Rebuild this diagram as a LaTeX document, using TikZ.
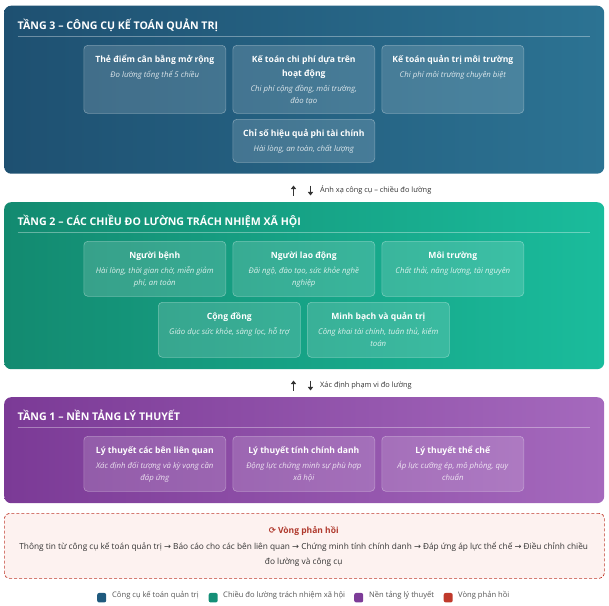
\documentclass[tikz,border=0pt]{standalone}
\usepackage{fontspec}
\setmainfont{Open Sans}
\newfontfamily\djv{DejaVu Sans}
\usetikzlibrary{calc,arrows.meta}
\definecolor{pA1}{HTML}{1E5071}
\definecolor{pA2}{HTML}{2C7393}
\definecolor{pB1}{HTML}{138A70}
\definecolor{pB2}{HTML}{1ABC9C}
\definecolor{pC1}{HTML}{7B3A96}
\definecolor{pC2}{HTML}{A569BD}
\definecolor{lgA}{HTML}{1F5A7E}
\definecolor{lgB}{HTML}{148F77}
\definecolor{lgC}{HTML}{7D3C98}
\definecolor{lgD}{HTML}{C0392B}
\definecolor{fbfill}{HTML}{FDF2F0}
\definecolor{fbline}{HTML}{C0392B}
\definecolor{fbtitle}{HTML}{B03A2E}
\definecolor{bodytxt}{HTML}{333333}
\definecolor{legtxt}{HTML}{555555}
\newcommand\rarr{{\djv →}}
\tikzset{
  panel/.style={anchor=north west, rounded corners=7pt, minimum width=600pt, inner sep=0pt, draw=none},
  card/.style={anchor=north west, rounded corners=4pt, minimum width=142pt, inner sep=0pt,
    fill=white, fill opacity=0.15, draw=white, draw opacity=0.35, line width=0.6pt},
  ptitle/.style={anchor=base west, inner sep=0pt, text=white, font=\fontsize{10.6}{12}\selectfont\bfseries},
  psep/.style={draw=white, draw opacity=0.35, line width=0.6pt},
  ctitle/.style={anchor=north, inner sep=0pt, text=white, align=center, font=\fontsize{8.6}{14}\selectfont\bfseries},
  csub/.style={anchor=north, inner sep=0pt, text=white, text opacity=0.82, align=center, font=\fontsize{7.8}{11.6}\selectfont\itshape},
  arrsym/.style={draw=bodytxt, line width=1.7pt, -{Triangle[length=3.6pt,width=5.2pt]}},
  arrlabel/.style={anchor=mid west, inner sep=0pt, text=bodytxt, font=\fontsize{7.4}{8}\selectfont},
  fbbox/.style={anchor=north west, rounded corners=5pt, minimum width=600pt, inner sep=0pt,
    fill=fbfill, draw=fbline, line width=0.7pt, dash pattern=on 3pt off 2pt},
  fbhead/.style={anchor=base, inner sep=0pt, text=fbtitle, font=\fontsize{8.5}{10}\selectfont\bfseries},
  fbbody/.style={anchor=north, inner sep=0pt, text=bodytxt, align=center, font=\fontsize{8.3}{15}\selectfont},
  lsq/.style={anchor=mid west, minimum width=9pt, minimum height=9.5pt, inner sep=0pt, rounded corners=2pt},
  ltxt/.style={anchor=mid west, inner sep=0pt, text=legtxt, font=\fontsize{7.6}{8}\selectfont},
}
% #1 name, #2 x, #3 y, #4 height, #5 title, #6 subtitle, #7 subtitle offset
\newcommand\card[7]{%
  \node[card, minimum height=#4pt] (#1) at (#2,#3) {};
  \node[ctitle] (#1t) at ($(#1.north)+(0,6)$) {\rule{0pt}{11pt}#5};
  \node[csub] (#1s) at ($(#1.north)+(0,#7)$) {\rule{0pt}{8pt}#6};
}
\begin{document}
\begin{tikzpicture}[x=1pt,y=-1pt]
\useasboundingbox (0,0) rectangle (609,605);
% ---- Tier 3
\node[panel, minimum height=168pt, left color=pA1, right color=pA2] (p3) at (4,5.5) {};
\node[ptitle] (p3t) at ($(p3.north west)+(13.5,23.5)$) {TẦNG 3 – CÔNG CỤ KẾ TOÁN QUẢN TRỊ};
\draw[psep] ($(p3.north west)+(13.5,30.5)$) -- ($(p3.north east)+(-14.5,30.5)$);
\card{c31}{83.5}{45}{68}{Thẻ điểm cân bằng mở rộng}{Đo lường tổng thể 5 chiều}{24.5}
\card{c32}{232.5}{45}{68}{Kế toán chi phí dựa trên\\hoạt động}{Chi phí cộng đồng, môi trường,\\đào tạo}{38.5}
\card{c33}{381.5}{45}{68}{Kế toán quản trị môi trường}{Chi phí môi trường chuyên biệt}{24.5}
\card{c34}{232.5}{119}{43}{Chỉ số hiệu quả phi tài chính}{Hài lòng, an toàn, chất lượng}{24.5}
% ---- link 3-2
\coordinate (u1a) at (293.5,195.5); \coordinate (u1b) at (293.5,185.5);
\coordinate (d1a) at (310.5,185.5); \coordinate (d1b) at (310.5,195.5);
\draw[arrsym] (u1a) -- (u1b);
\draw[arrsym] (d1a) -- (d1b);
\node[arrlabel] (l1) at (320,190) {Ánh xạ công cụ – chiều đo lường};
% ---- Tier 2
\node[panel, minimum height=167pt, left color=pB1, right color=pB2] (p2) at (4,202) {};
\node[ptitle] (p2t) at ($(p2.north west)+(13.5,23.5)$) {TẦNG 2 – CÁC CHIỀU ĐO LƯỜNG TRÁCH NHIỆM XÃ HỘI};
\draw[psep] ($(p2.north west)+(13.5,30.5)$) -- ($(p2.north east)+(-14.5,30.5)$);
\card{c21}{83.5}{241}{55}{Người bệnh}{Hài lòng, thời gian chờ, miễn giảm\\phí, an toàn}{24.5}
\card{c22}{232.5}{241}{55}{Người lao động}{Đãi ngộ, đào tạo, sức khỏe nghề\\nghiệp}{24.5}
\card{c23}{381.5}{241}{55}{Môi trường}{Chất thải, năng lượng, tài nguyên}{24.5}
\card{c24}{158}{302}{55}{Cộng đồng}{Giáo dục sức khỏe, sàng lọc, hỗ trợ}{24.5}
\card{c25}{307}{302}{55}{Minh bạch và quản trị}{Công khai tài chính, tuân thủ, kiểm\\toán}{24.5}
% ---- link 2-1
\coordinate (u2a) at (293.5,390.5); \coordinate (u2b) at (293.5,380.5);
\coordinate (d2a) at (310.5,380.5); \coordinate (d2b) at (310.5,390.5);
\draw[arrsym] (u2a) -- (u2b);
\draw[arrsym] (d2a) -- (d2b);
\node[arrlabel] (l2) at (320,385) {Xác định phạm vi đo lường};
% ---- Tier 1
\node[panel, minimum height=106pt, left color=pC1, right color=pC2] (p1) at (4,397) {};
\node[ptitle] (p1t) at ($(p1.north west)+(13.5,23.5)$) {TẦNG 1 – NỀN TẢNG LÝ THUYẾT};
\draw[psep] ($(p1.north west)+(13.5,30.5)$) -- ($(p1.north east)+(-14.5,30.5)$);
\card{c11}{83.5}{436}{55}{Lý thuyết các bên liên quan}{Xác định đối tượng và kỳ vọng cần\\đáp ứng}{24.5}
\card{c12}{232.5}{436}{55}{Lý thuyết tính chính danh}{Động lực chứng minh sự phù hợp\\xã hội}{24.5}
\card{c13}{381.5}{436}{55}{Lý thuyết thể chế}{Áp lực cưỡng ép, mô phỏng, quy\\chuẩn}{24.5}
% ---- Feedback
\node[fbbox, minimum height=65pt] (fb) at (4,513) {};
\node[fbhead] (fbh) at (303.7,533) {{\djv ⟳} Vòng phản hồi};
\node[fbbody] (fbt) at (303.7,540.5) {\rule{0pt}{9pt}Thông tin từ công cụ kế toán quản trị \rarr{} Báo cáo cho các bên liên quan \rarr{} Chứng minh tính chính danh \rarr{} Đáp ứng áp lực thể chế \rarr{} Điều chỉnh chiều\\đo lường và công cụ};
% ---- Legend
\node[lsq, fill=lgA] (q1) at (97,595) {};
\node[ltxt] (t1) at (112,595) {Công cụ kế toán quản trị};
\node[lsq, fill=lgB] (q2) at (208.5,595) {};
\node[ltxt] (t2) at (223,595) {Chiều đo lường trách nhiệm xã hội};
\node[lsq, fill=lgC] (q3) at (354,595) {};
\node[ltxt] (t3) at (369,595) {Nền tảng lý thuyết};
\node[lsq, fill=lgD] (q4) at (443.5,595) {};
\node[ltxt] (t4) at (458,595) {Vòng phản hồi};
\end{tikzpicture}
\end{document}
